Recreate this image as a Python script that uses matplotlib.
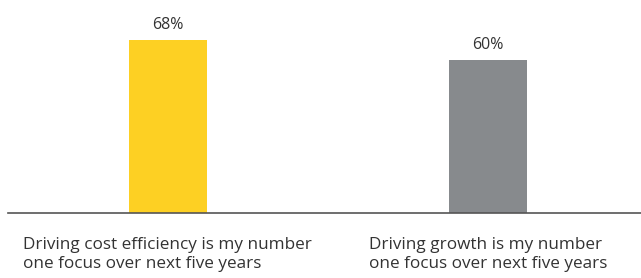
import matplotlib
matplotlib.use("Agg")
import matplotlib.pyplot as plt

categories = ["Driving cost efficiency is my number\none focus over next five years",
              "Driving growth is my number\none focus over next five years"]
values = [68, 60]
value_labels = ["68%", "60%"]
colors = ["#FDD023", "#878A8D"]

plt.rcParams['font.family'] = ['Open Sans', 'DejaVu Sans']

W, H = 641, 278
fig = plt.figure(figsize=(W / 100, H / 100), dpi=100)
ax = fig.add_axes([8 / W, 65 / H, 633 / W, 213 / H])

x = list(range(len(values)))
ax.bar(x, values, width=0.244, color=colors)
ax.set_xlim(-0.5, 1.478)
ax.set_ylim(0, 83.7)

for xi, v, lab in zip(x, values, value_labels):
    ax.annotate(lab, xy=(xi, v), xytext=(0, 7), textcoords='offset pixels',
                ha='center', va='bottom', fontsize=11.5, color='#333333')

offsets = [-145, -119]
for xi, cat, off in zip(x, categories, offsets):
    ax.annotate(cat, xy=(xi, 0), xytext=(off, -24), textcoords='offset pixels',
                ha='left', va='top', fontsize=12.3, color='#333333', linespacing=1.27)

for s in ['top', 'right', 'left']:
    ax.spines[s].set_visible(False)
ax.spines['bottom'].set_color('#555555')
ax.spines['bottom'].set_linewidth(1.2)
ax.set_xticks([])
ax.set_yticks([])

fig.savefig("out.png", dpi=100)
